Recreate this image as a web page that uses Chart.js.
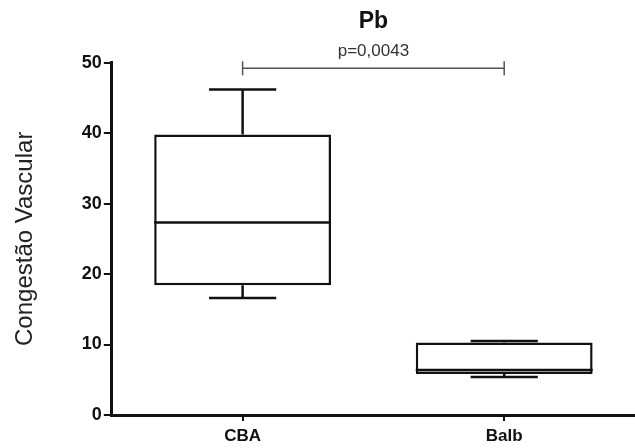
<!DOCTYPE html>
<html>
<head>
<meta charset="utf-8">
<script src="https://cdn.jsdelivr.net/npm/chart.js@4"></script>
<style>
  body { margin: 0; background: #fff; }
  #wrap { width: 635px; height: 448px; }
</style>
</head>
<body>
<div id="wrap"><canvas id="chart"></canvas></div>
<script>
// dados
const grupos = ["CBA", "Balb"];
const minimo = [16.6, 5.4];
const quartil1 = [18.4, 5.8];
const mediana = [27.3, 6.4];
const quartil3 = [39.8, 10.3];
const maximo = [46.2, 10.5];
const yTicks = [0, 10, 20, 30, 40, 50];
const pTexto = "p=0,0043";
const pAltura = 49.2;

const fonte = "'Liberation Sans', Arial, sans-serif";

// caixas = barras flutuantes Q1..Q3
const caixas = grupos.map((g, i) => [quartil1[i], quartil3[i]]);

const bigodes = {
  id: "bigodes",
  afterDatasetsDraw(chart) {
    const ctx = chart.ctx;
    const y = chart.scales.y;
    const meta = chart.getDatasetMeta(0);
    ctx.save();
    ctx.strokeStyle = "#111";
    ctx.lineWidth = 2.5;
    meta.data.forEach((bar, i) => {
      const x = bar.x;
      const w = bar.width;
      const cap = w * 0.19;
      const yMed = y.getPixelForValue(mediana[i]);
      const yQ1 = y.getPixelForValue(quartil1[i]);
      const yQ3 = y.getPixelForValue(quartil3[i]);
      const yMin = y.getPixelForValue(minimo[i]);
      const yMax = y.getPixelForValue(maximo[i]);
      ctx.beginPath();
      // mediana
      ctx.moveTo(x - w / 2, yMed);
      ctx.lineTo(x + w / 2, yMed);
      // bigode superior
      ctx.moveTo(x, yQ3);
      ctx.lineTo(x, yMax);
      ctx.moveTo(x - cap, yMax);
      ctx.lineTo(x + cap, yMax);
      // bigode inferior
      ctx.moveTo(x, yQ1);
      ctx.lineTo(x, yMin);
      ctx.moveTo(x - cap, yMin);
      ctx.lineTo(x + cap, yMin);
      ctx.stroke();
    });
    ctx.restore();
  }
};

const significancia = {
  id: "significancia",
  afterDraw(chart) {
    const ctx = chart.ctx;
    const x1 = chart.scales.x.getPixelForValue(0);
    const x2 = chart.scales.x.getPixelForValue(1);
    const yb = chart.scales.y.getPixelForValue(pAltura);
    ctx.save();
    ctx.strokeStyle = "#555";
    ctx.lineWidth = 1.5;
    ctx.beginPath();
    ctx.moveTo(x1, yb);
    ctx.lineTo(x2, yb);
    ctx.moveTo(x1, yb - 7);
    ctx.lineTo(x1, yb + 7);
    ctx.moveTo(x2, yb - 7);
    ctx.lineTo(x2, yb + 7);
    ctx.stroke();
    ctx.fillStyle = "#333";
    ctx.font = "17px " + fonte;
    ctx.textAlign = "center";
    ctx.textBaseline = "alphabetic";
    ctx.fillText(pTexto, (x1 + x2) / 2, yb - 12);
    ctx.restore();
  }
};

new Chart(document.getElementById("chart"), {
  type: "bar",
  data: {
    labels: grupos,
    datasets: [{
      data: caixas,
      backgroundColor: "#fff",
      borderColor: "#111",
      borderWidth: 2.5,
      borderSkipped: false,
      barPercentage: 1,
      categoryPercentage: 0.676
    }]
  },
  options: {
    responsive: true,
    maintainAspectRatio: false,
    animation: false,
    layout: { padding: { left: 5, right: 0, top: 0, bottom: 0 } },
    plugins: {
      legend: { display: false },
      tooltip: { enabled: false },
      title: {
        display: true,
        fullSize: false,
        text: "Pb",
        color: "#111",
        font: { family: fonte, size: 23, weight: "bold" },
        padding: { top: 8, bottom: 27 }
      }
    },
    scales: {
      x: {
        afterFit(axis) {
          axis.height = 33;
        },
        grid: {
          display: true,
          drawOnChartArea: false,
          offset: false,
          tickLength: 6,
          color: "#111",
          lineWidth: 2
        },
        border: { display: true, color: "#111", width: 3 },
        ticks: {
          color: "#111",
          padding: 5,
          font: { family: fonte, size: 17, weight: "bold" }
        }
      },
      y: {
        min: 0,
        max: 50,
        afterBuildTicks(axis) {
          axis.ticks = yTicks.map(v => ({ value: v }));
        },
        grid: {
          display: true,
          drawOnChartArea: false,
          tickLength: 8,
          color: "#111",
          lineWidth: 2
        },
        border: { display: true, color: "#111", width: 3 },
        ticks: {
          color: "#111",
          padding: 2,
          font: { family: fonte, size: 18, weight: "bold" }
        },
        title: {
          display: true,
          text: "Congestão Vascular",
          color: "#222",
          font: { family: fonte, size: 24 },
          padding: { top: 6, bottom: 40 }
        }
      }
    }
  },
  plugins: [bigodes, significancia]
});
</script>
</body>
</html>
